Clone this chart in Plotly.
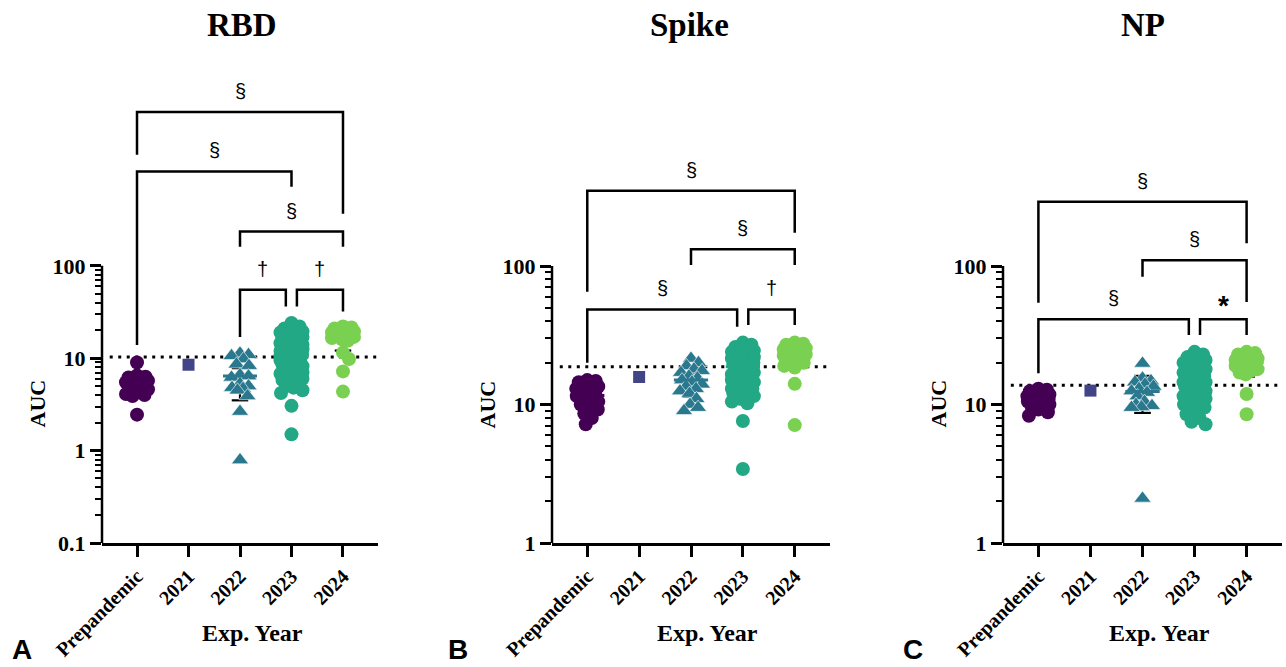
import math
import numpy as np
import plotly.graph_objects as go

W, H = 1286, 667

categories = ["Prepandemic", "2021", "2022", "2023", "2024"]
colors = ["#440154", "#414487", "#2a788e", "#22a884", "#7ad151"]
symbols = ["circle", "square", "triangle-up", "circle", "circle"]
msizes = [14, 12, 15, 14, 14]

# ---------------- RBD ----------------
rbd_prepandemic = [9.0, 6.5, 6.3, 6.2, 6.0, 5.9, 5.7, 5.5, 5.3, 5.1, 4.9, 4.6, 4.3, 4.1, 4.0, 3.9, 2.45]
rbd_2021 = [8.5]
rbd_2022 = [11.3, 10.9, 10.6, 9.8, 8.6, 8.3, 6.6, 6.4, 6.2, 5.3, 5.0, 4.8, 4.7, 4.5, 3.9, 2.65, 0.79]
rbd_2023 = [24, 22, 21, 20, 19.5, 19, 18, 17.5, 17, 16.5, 16, 15.5, 15, 14.5, 14, 14, 13.5, 13, 13,
            12.5, 12.5, 12, 12, 11.5, 11.5, 11, 11, 10.5, 10.5, 10, 10, 10, 9.5, 9.5, 9, 9, 8.7, 8.5,
            8.2, 8, 7.8, 7.5, 7.2, 7, 6.8, 6.5, 6.3, 6, 5.8, 5.5, 5.2, 5, 4.8, 4.5, 4.2, 3.05, 1.5]
rbd_2024 = [22, 21.5, 21, 20.5, 20, 19.5, 19, 18.5, 18, 17.5, 17, 16.5, 16, 15.5, 11.5, 9.8, 7.2, 4.35]
rbd_median = [5.5, None, 6.4, 10.5, 16.9]
rbd_err_lo = [4.3, None, 3.5, 9.5, 12.1]
rbd_err_hi = [6.2, None, 7.8, 12.0, 19.5]
rbd_cutoff = 10.3

# ---------------- Spike ----------------
spike_prepandemic = [15, 14.8, 14.5, 14.2, 14, 13.5, 13, 12.8, 12.5, 12, 11.5, 11, 10.5, 10, 9.6, 9.2, 8.6, 8, 7.2]
spike_2021 = [15.8]
spike_2022 = [21.5, 20, 19, 18, 17.5, 17, 16, 15.5, 15, 14.5, 14, 13.5, 13, 12.5, 12, 11, 10, 9.5, 9.0]
spike_2023 = [28, 27, 26, 25.5, 25, 24.5, 24, 23.5, 23, 22.5, 22, 21.5, 21, 20.5, 20, 20, 19.5, 19, 19,
              18.5, 18, 18, 17.5, 17, 17, 16.5, 16, 16, 15.5, 15, 15, 14.5, 14, 14, 13.5, 13, 13, 12.5,
              12, 12, 11.5, 11, 10.5, 10.2, 7.6, 3.42]
spike_2024 = [28, 27.5, 27, 26.5, 26, 25.5, 25, 24.5, 24, 23.5, 23, 22.5, 22, 21, 20, 19, 18.5, 14.1, 7.1]
spike_median = [11.6, None, 15.0, 18.7, 23.4]
spike_err_lo = [10.0, None, 11.4, 17.0, 20.0]
spike_err_hi = [13.5, None, 16.5, 20.5, 26.0]
spike_cutoff = 18.7

# ---------------- NP ----------------
np_prepandemic = [13, 12.8, 12.5, 12.3, 12, 11.8, 11.5, 11.2, 11, 10.8, 10.5, 10.2, 10, 9.8, 9.5, 9.2, 8.8, 8.3]
np_2021 = [12.6]
np_2022 = [19.8, 15.5, 14.8, 14.5, 14, 13.5, 13, 12.5, 12.2, 11.5, 10.5, 10, 9.8, 9.6, 9.5, 2.1]
np_2023 = [24, 23, 22, 21.5, 21, 20.5, 20, 19.5, 19, 18.5, 18, 17.5, 17, 16.5, 16, 16, 15.5, 15, 15,
           14.5, 14.5, 14, 14, 13.5, 13.5, 13, 13, 12.5, 12.5, 12, 12, 11.5, 11, 11, 10.5, 10, 9.5, 9,
           8.5, 8, 7.5, 7.2]
np_2024 = [24, 23.5, 23, 22.5, 22, 21.5, 21, 20.5, 20, 19.5, 19, 18.5, 18, 17.5, 17, 16.5, 11.9, 8.5]
np_median = [10.9, None, 12.4, 14.5, 20.0]
np_err_lo = [10.0, None, 8.7, 13.5, 15.9]
np_err_hi = [11.8, None, 16.1, 15.5, 21.5]
np_cutoff = 13.8

# significance brackets: (group i, group j, label, bar level, left leg end, right leg end) in AUC
rbd_brackets = [(0, 4, "§", 4620, 1595, 366), (0, 3, "§", 1050, 13.9, 718),
                (2, 4, "§", 235, 161, 161), (2, 3, "†", 55, 17, 36.2), (3, 4, "†", 55, 36.2, 32)]
spike_brackets = [(0, 4, "§", 350, 65.2, 174), (2, 4, "§", 132, 101.6, 101.6),
                  (0, 3, "§", 48.6, 20, 36.5), (3, 4, "†", 48.6, 37.5, 37.5)]
np_brackets = [(0, 4, "§", 291, 54.3, 146), (2, 4, "§", 110, 83.8, 55),
               (0, 3, "§", 41.2, 16.8, 31.8), (3, 4, "*", 41.2, 31.8, 31.8)]

titles = ["RBD", "Spike", "NP"]
panel_letters = ["A", "B", "C"]

# ---------------- layout geometry (pixels) ----------------
panels = [
    dict(groups=[rbd_prepandemic, rbd_2021, rbd_2022, rbd_2023, rbd_2024], med=rbd_median,
         lo=rbd_err_lo, hi=rbd_err_hi, cut=rbd_cutoff, br=rbd_brackets,
         x0=102, x1=378, yr=[-1, 4], yticks=[0.1, 1, 10, 100], title_x=242, letter_x=22,
         auc_x=36.5, exp_x=252),
    dict(groups=[spike_prepandemic, spike_2021, spike_2022, spike_2023, spike_2024], med=spike_median,
         lo=spike_err_lo, hi=spike_err_hi, cut=spike_cutoff, br=spike_brackets,
         x0=552, x1=830, yr=[0, 3.336], yticks=[1, 10, 100], title_x=689, letter_x=458,
         auc_x=486.5, exp_x=707),
    dict(groups=[np_prepandemic, np_2021, np_2022, np_2023, np_2024], med=np_median,
         lo=np_err_lo, hi=np_err_hi, cut=np_cutoff, br=np_brackets,
         x0=1003, x1=1282, yr=[0, 3.336], yticks=[1, 10, 100], title_x=1143, letter_x=913,
         auc_x=937.5, exp_x=1159),
]
Y_BOT, Y_TOP = 543, 81
XR = [-0.68, 4.68]

SERIF = "Liberation Serif, Times New Roman, serif"
SANS = "Liberation Sans, Arial, sans-serif"


def swarm_offsets(vals, ppd, ppu, dmin, cap):
    order = np.argsort(vals)[::-1]
    cands = sorted(np.arange(-cap, cap + 0.01, 0.5), key=lambda c: (abs(c), -c))
    placed = []
    offs = np.zeros(len(vals))
    for idx in order:
        ypx = math.log10(vals[idx]) * ppd
        best, bestc, best_d = None, 0.0, -1.0
        for c in cands:
            md = min([math.hypot(c - px, ypx - py) for px, py in placed], default=1e9)
            if md >= dmin:
                best = c
                break
            if md > best_d:
                best_d, bestc = md, c
        if best is None:
            best = bestc
        placed.append((best, ypx))
        offs[idx] = best / ppu
    return offs


fig = go.Figure()
layout = dict(width=W, height=H, margin=dict(l=0, r=0, t=0, b=0, autoexpand=False), showlegend=False,
              plot_bgcolor="white", paper_bgcolor="white")
shapes, annotations = [], []
ydom = [(H - Y_BOT) / H, (H - Y_TOP) / H]

for p, P in enumerate(panels):
    sfx = "" if p == 0 else str(p + 1)
    xa, ya = "x" + sfx, "y" + sfx
    ppu = (P["x1"] - P["x0"]) / (XR[1] - XR[0])
    ppd = (Y_BOT - Y_TOP) / (P["yr"][1] - P["yr"][0])
    lo_dec = int(round(P["yr"][0]))

    minor_vals = [m * 10 ** d for d in range(lo_dec, 2) for m in range(2, 10)]
    layout["xaxis" + sfx] = dict(
        domain=[P["x0"] / W, P["x1"] / W], range=XR, anchor=ya, automargin=False,
        tickvals=list(range(5)), ticktext=["<b>%s</b>" % c for c in categories], tickangle=-45,
        tickfont=dict(family=SERIF, size=20, color="black"), ticks="outside", ticklen=11,
        tickwidth=2.5, tickcolor="black", showline=True, linewidth=2.5, linecolor="black",
        showgrid=False, zeroline=False, fixedrange=True)
    layout["yaxis" + sfx] = dict(
        domain=ydom, type="log", range=P["yr"], anchor=xa, automargin=False,
        tickvals=P["yticks"], ticktext=["<b>%g</b>" % v for v in P["yticks"]],
        tickfont=dict(family=SERIF, size=22, color="black"), ticks="outside", ticklen=11,
        tickwidth=2.5, tickcolor="black", showline=False, showgrid=False, zeroline=False,
        minor=dict(tickvals=minor_vals, ticks="outside", ticklen=6, tickwidth=2, tickcolor="black"),
        fixedrange=True)

    # y axis line only up to 100 (shape coordinates in data units)
    shapes.append(dict(type="line", xref=xa + " domain", yref=ya, x0=0, x1=0,
                       y0=10 ** P["yr"][0], y1=100, line=dict(color="black", width=2.5)))

    # cutoff dotted line
    fig.add_trace(go.Scatter(x=[-0.53, XR[1]], y=[P["cut"], P["cut"]], mode="lines",
                             line=dict(color="black", width=3, dash="3px,5.5px"),
                             xaxis=xa, yaxis=ya, hoverinfo="skip"))

    # error bars
    for i in range(5):
        if P["lo"][i] is None:
            continue
        c = 0.16
        fig.add_trace(go.Scatter(
            x=[i, i, None, i - c, i + c, None, i - c, i + c],
            y=[P["lo"][i], P["hi"][i], None, P["lo"][i], P["lo"][i], None, P["hi"][i], P["hi"][i]],
            mode="lines", line=dict(color="black", width=2.2), xaxis=xa, yaxis=ya, hoverinfo="skip"))

    # points
    for i, vals in enumerate(P["groups"]):
        n = len(vals)
        offs = swarm_offsets(vals, ppd, ppu, dmin=8.5, cap=11) if n > 1 else np.zeros(1)
        fig.add_trace(go.Scatter(
            x=i + offs, y=vals, mode="markers",
            marker=dict(symbol=symbols[i], size=msizes[i], color=colors[i],
                        line=dict(color="white", width=0.6 if symbols[i] == "triangle-up" else 0)),
            xaxis=xa, yaxis=ya, name=categories[i]))

    # median lines
    for i in range(5):
        if P["med"][i] is None:
            continue
        fig.add_trace(go.Scatter(x=[i - 0.33, i + 0.33], y=[P["med"][i], P["med"][i]], mode="lines",
                                 line=dict(color=colors[i], width=3), xaxis=xa, yaxis=ya,
                                 hoverinfo="skip"))

    # brackets
    for (i, j, lab, bar, le, re) in P["br"]:
        dl = 0.0
        dr = 0.0
        for (i2, j2, _, bar2, _, _) in P["br"]:
            if bar2 == bar and (i2, j2) != (i, j):
                if j == i2:
                    dr = -0.11
                if i == j2:
                    dl = 0.105
        xl, xr = i + dl, j + dr
        shapes.append(dict(type="path", xref=xa, yref=ya,
                           path="M %f,%f L %f,%f L %f,%f L %f,%f" % (xl, le, xl, bar, xr, bar, xr, re),
                           line=dict(color="black", width=2.5)))
        lb = math.log10(bar)
        if lab == "*":
            annotations.append(dict(x=(xl + xr) / 2, y=lb, xref=xa, yref=ya, text="<b>*</b>",
                                    showarrow=False, yanchor="middle", yshift=14,
                                    font=dict(family=SANS, size=28, color="black")))
        else:
            annotations.append(dict(x=(xl + xr) / 2, y=lb, xref=xa, yref=ya, text=lab,
                                    showarrow=False, yanchor="middle", yshift=21,
                                    font=dict(family=SANS, size=20, color="black")))

    # titles and labels
    annotations.append(dict(x=P["title_x"] / W, y=1 - 25 / H, xref="paper", yref="paper",
                            text="<b>%s</b>" % titles[p], showarrow=False, xanchor="center",
                            yanchor="middle", font=dict(family=SERIF, size=33, color="black")))
    annotations.append(dict(x=P["auc_x"] / W, y=1 - 404 / H, xref="paper", yref="paper",
                            text="<b>AUC</b>", textangle=-90, showarrow=False, xanchor="center",
                            yanchor="middle", font=dict(family=SERIF, size=22, color="black")))
    annotations.append(dict(x=P["exp_x"] / W, y=1 - 633 / H, xref="paper", yref="paper",
                            text="<b>Exp. Year</b>", showarrow=False, xanchor="center",
                            yanchor="middle", font=dict(family=SERIF, size=24, color="black")))
    annotations.append(dict(x=P["letter_x"] / W, y=0, xref="paper", yref="paper",
                            text="<b>%s</b>" % panel_letters[p], showarrow=False, xanchor="center",
                            yanchor="bottom", borderpad=0, yshift=1,
                            font=dict(family=SANS, size=28, color="black")))

layout["shapes"] = shapes
layout["annotations"] = annotations
fig.update_layout(**layout)
fig.write_html("out.html")
